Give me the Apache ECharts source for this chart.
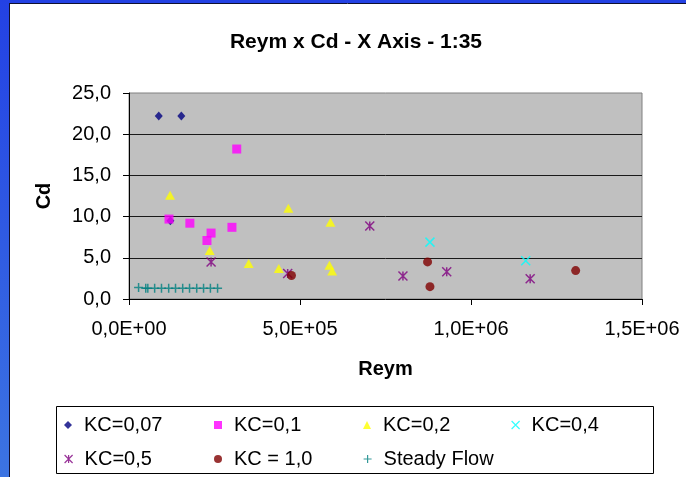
<!DOCTYPE html>
<html>
<head>
<meta charset="utf-8">
<script src="https://cdn.jsdelivr.net/npm/echarts@6/dist/echarts.min.js"></script>
<style>
  html, body { margin: 0; padding: 0; background: #ffffff; }
  #chart { width: 686px; height: 477px; }
</style>
</head>
<body>
<div id="chart"></div>
<script>
// Reym (x) vs Cd (y) per KC value
const kc007 = [[87000, 22.2], [153000, 22.2], [121000, 9.5]];
const kc01 = [[117000, 9.7], [178000, 9.2], [228000, 7.1], [240000, 8.0], [301000, 8.7], [315000, 18.2]];
const kc02 = [[120000, 12.6], [236000, 5.9], [350000, 4.3], [438000, 3.7], [466000, 11.0], [589000, 9.3], [586000, 4.1], [594000, 3.4]];
const kc04 = [[880000, 6.9], [1160000, 4.65]];
const kc05 = [[240000, 4.5], [464000, 3.1], [704000, 8.85], [801000, 2.8], [929000, 3.3], [1173000, 2.45]];
const kc10 = [[475000, 2.85], [873000, 4.5], [880000, 1.5], [1306000, 3.45]];
const steadyFlow = [[28000, 1.4], [49000, 1.3], [55000, 1.3], [75000, 1.3], [95000, 1.3], [116000, 1.3], [136000, 1.3], [157000, 1.3], [177000, 1.3], [198000, 1.3], [218000, 1.3], [238000, 1.3], [259000, 1.3]];

const xTickLabels = ['0,0E+00', '5,0E+05', '1,0E+06', '1,5E+06'];
const yTickLabels = ['0,0', '5,0', '10,0', '15,0', '20,0', '25,0'];

const FONT = "'Liberation Sans', Arial, sans-serif";

const XMARK = 'path://M0,0L10,10M10,0L0,10';
const STAR = 'path://M0,0L10,10M10,0L0,10M5,0L5,10';
const PLUS = 'path://M0,5L10,5M5,0L5,10';

const seriesDefs = [
  { name: 'KC=0,07', data: kc007, symbol: 'diamond', size: [8, 9], color: '#000080' },
  { name: 'KC=0,1', data: kc01, symbol: 'rect', size: 9, color: '#FF00FF' },
  { name: 'KC=0,2', data: kc02, symbol: 'triangle', size: [10, 9], color: '#FFFF00' },
  { name: 'KC=0,4', data: kc04, symbol: XMARK, size: 9, color: '#00FFFF', stroke: true },
  { name: 'KC=0,5', data: kc05, symbol: STAR, size: 9, color: '#800080', stroke: true },
  { name: 'KC = 1,0', data: kc10, symbol: 'circle', size: 9, color: '#800000' },
  { name: 'Steady Flow', data: steadyFlow, symbol: PLUS, size: 9, color: '#008080', stroke: true }
];

const series = seriesDefs.map(d => ({
  name: d.name,
  type: 'scatter',
  data: d.data,
  symbol: d.symbol,
  symbolSize: d.size,
  itemStyle: d.stroke
    ? { color: d.color, borderColor: d.color, borderWidth: 1.5 }
    : { color: d.color, borderWidth: 0 },
  emphasis: { disabled: true }
}));

// legend layout: two rows, four columns (left edge of each icon)
const legendSlots = [
  [64, 415], [214, 415], [363, 415], [511, 415],
  [64, 449], [214, 449], [363, 449]
];
const legends = seriesDefs.map((d, i) => ({
  data: [{ name: d.name, icon: d.symbol }],
  left: legendSlots[i][0],
  top: legendSlots[i][1],
  orient: 'horizontal',
  padding: 0,
  itemWidth: 8,
  itemHeight: 8,
  itemGap: 0,
  selectedMode: false,
  textStyle: { fontFamily: FONT, fontSize: 20, color: '#000', padding: [0, 0, 0, 7] },
  itemStyle: d.stroke ? { borderWidth: 1.2, borderColor: d.color } : { borderWidth: 0 }
}));

const chart = echarts.init(document.getElementById('chart'), null, { renderer: 'canvas' });

chart.setOption({
  animation: false,
  backgroundColor: '#ffffff',
  title: {
    text: 'Reym x Cd - X Axis - 1:35',
    left: 351,
    textAlign: 'center',
    top: 27,
    textStyle: { fontFamily: FONT, fontSize: 21, fontWeight: 'bold', color: '#000' }
  },
  legend: legends,
  grid: {
    left: 129, right: 44, top: 93, bottom: 178,
    show: true,
    backgroundColor: '#C0C0C0',
    borderColor: '#808080',
    borderWidth: 1
  },
  xAxis: {
    type: 'value',
    min: 0, max: 1500000, interval: 500000,
    name: 'Reym',
    nameLocation: 'middle',
    nameGap: 60,
    nameTextStyle: { fontFamily: FONT, fontSize: 20, fontWeight: 'bold', color: '#000' },
    axisLine: { show: true, onZero: false, lineStyle: { color: '#000', width: 1 } },
    axisTick: { show: true, inside: false, length: 6, lineStyle: { color: '#000' } },
    axisLabel: {
      margin: 20,
      fontFamily: FONT, fontSize: 20, color: '#000',
      formatter: v => xTickLabels[Math.round(v / 500000)]
    },
    splitLine: { show: false }
  },
  yAxis: {
    type: 'value',
    min: 0, max: 25, interval: 5,
    name: 'Cd',
    nameLocation: 'middle',
    nameGap: 75,
    nameRotate: 90,
    nameTextStyle: { fontFamily: FONT, fontSize: 20, fontWeight: 'bold', color: '#000' },
    axisLine: { show: true, onZero: false, lineStyle: { color: '#000', width: 1 } },
    axisTick: { show: true, inside: false, length: 6, lineStyle: { color: '#000' } },
    axisLabel: {
      margin: 18,
      fontFamily: FONT, fontSize: 20, color: '#000',
      formatter: v => yTickLabels[Math.round(v / 5)]
    },
    splitLine: {
      show: true,
      showMinLine: false,
      showMaxLine: false,
      lineStyle: { color: '#1a1a1a', width: 1 }
    }
  },
  series: series,
  graphic: [
    // slide frame: top strip and left strip
    {
      type: 'rect', z: 100,
      shape: { x: 0, y: 0, width: 686, height: 3 },
      style: { fill: '#2341E4' }
    },
    {
      type: 'rect', z: 100,
      shape: { x: 0, y: 0, width: 9, height: 477 },
      style: {
        fill: new echarts.graphic.LinearGradient(0, 0, 0, 1, [
          { offset: 0, color: '#2341E4' },
          { offset: 1, color: '#3C74E2' }
        ])
      }
    },
    {
      type: 'line', z: 100,
      shape: { x1: 9.5, y1: 3, x2: 9.5, y2: 477 },
      style: { stroke: '#101030', lineWidth: 1 }
    },
    {
      type: 'line', z: 100,
      shape: { x1: 9, y1: 3.5, x2: 686, y2: 3.5 },
      style: { stroke: '#101030', lineWidth: 1 }
    },
    // legend frame
    {
      type: 'rect', z: 0,
      shape: { x: 56.5, y: 406.5, width: 597, height: 67 },
      style: { fill: '#ffffff', stroke: '#000', lineWidth: 1 }
    }
  ]
});
</script>
</body>
</html>
